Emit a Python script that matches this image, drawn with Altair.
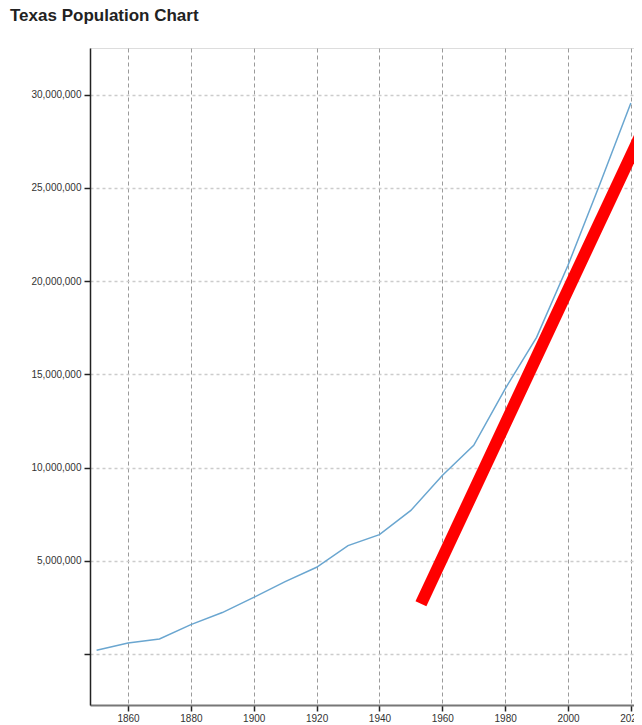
import altair as alt
import pandas as pd

# Census years and Texas population
years = [1850, 1860, 1870, 1880, 1890, 1900, 1910, 1920, 1930, 1940,
         1950, 1960, 1970, 1980, 1990, 2000, 2010, 2020]
population = [212592, 604215, 818579, 1591749, 2235527, 3048710, 3896542,
              4663228, 5824715, 6414824, 7711194, 9579677, 11196730,
              14229191, 16986510, 20851820, 25145561, 29550000]

# Red trend line end points
trend_years = [1953.2, 2030]
trend_values = [2710000, 30320000]

x_ticks = [1860, 1880, 1900, 1920, 1940, 1960, 1980, 2000, 2020]
y_ticks = [0, 5000000, 10000000, 15000000, 20000000, 25000000, 30000000]

x_domain = [1847.9, 2021.0]
y_domain = [-2720000, 32500000]

pop_df = pd.DataFrame({"year": years, "population": population})
trend_df = pd.DataFrame({"year": trend_years, "population": trend_values})

FONT = "Liberation Sans"

x_scale = alt.Scale(domain=x_domain, nice=False, zero=False)
y_scale = alt.Scale(domain=y_domain, nice=False, zero=False)

x_axis = alt.Axis(
    values=x_ticks, format="d", title=None,
    grid=True, gridDash=[4, 3], gridColor="#9a9a9a", gridWidth=1,
    domainColor="#777777", domainWidth=2,
    tickColor="#222222", tickSize=6, tickWidth=1.5,
    labelFontSize=10, labelColor="#333333", labelFont=FONT, labelPadding=2,
)
y_axis = alt.Axis(
    values=y_ticks, title=None,
    labelExpr="datum.value == 0 ? '' : format(datum.value, ',')",
    grid=True, gridDash=[3, 3], gridColor="#cccccc", gridWidth=1.5,
    domainColor="#222222", domainWidth=1.5,
    tickColor="#222222", tickSize=6, tickWidth=1.5,
    labelFontSize=10, labelColor="#333333", labelFont=FONT, labelPadding=3,
)

pop_line = alt.Chart(pop_df).mark_line(
    color="#6aa6d0", strokeWidth=1.5, clip=True
).encode(
    x=alt.X("year:Q", scale=x_scale, axis=x_axis),
    y=alt.Y("population:Q", scale=y_scale, axis=y_axis),
)

trend_line = alt.Chart(trend_df).mark_line(
    color="#ff0000", strokeWidth=12, strokeCap="butt", clip=True
).encode(
    x=alt.X("year:Q", scale=x_scale),
    y=alt.Y("population:Q", scale=y_scale),
)

chart = alt.layer(pop_line, trend_line).properties(
    width=544,
    height=657,
    autosize=alt.AutoSizeParams(type="none"),
    padding={"left": 82, "top": 40, "right": 0, "bottom": 17},
    title=alt.TitleParams(
        "Texas Population Chart", anchor="start", frame="group",
        fontSize=17, fontWeight="bold", font=FONT, color="#222222",
        dx=-80, offset=10, baseline="alphabetic",
    ),
).configure_view(stroke=None).configure(background="white")

chart.save("out.html", embed_options={"renderer": "svg", "actions": False})
